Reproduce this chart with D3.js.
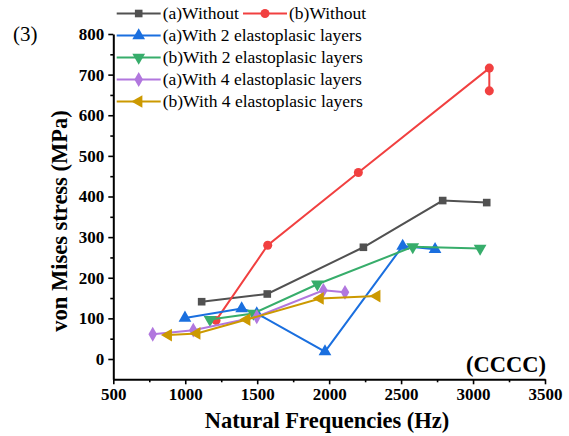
<!DOCTYPE html>
<html>
<head>
<meta charset="utf-8">
<script src="https://cdn.jsdelivr.net/npm/d3@7"></script>
<style>
  html, body { margin: 0; padding: 0; background: #fff; }
  svg { display: block; }
  text { font-family: "Liberation Serif", "Times New Roman", serif; }
</style>
</head>
<body>
<svg id="chart" width="569" height="436"></svg>
<script>
// Natural frequency (Hz) and von Mises stress (MPa) per configuration
const seriesNames = [
  "(a)Without", "(b)Without",
  "(a)With 2 elastoplasic layers", "(b)With 2 elastoplasic layers",
  "(a)With 4 elastoplasic layers", "(b)With 4 elastoplasic layers"
];
const freqAWithout = [1114, 1570, 2238, 2789, 3095];
const stressAWithout = [141, 160, 275, 390, 385];
const freqBWithout = [1214, 1573, 2203, 3113, 3113];
const stressBWithout = [95, 280, 459, 716, 660];
const freqA2 = [998, 1392, 1497, 1971, 2511, 2736];
const stressA2 = [101, 124, 112, 18, 278, 270];
const freqB2 = [1172, 1473, 1918, 2581, 3049];
const stressB2 = [97, 112, 184, 276, 272];
const freqA4 = [774, 1056, 1497, 1960, 2110];
const stressA4 = [61, 71, 104, 169, 164];
const freqB4 = [882, 1080, 1427, 1937, 2331];
const stressB4 = [59, 63, 97, 149, 155];

const xTicks = [500, 1000, 1500, 2000, 2500, 3000, 3500];
const yTicks = [0, 100, 200, 300, 400, 500, 600, 700, 800];

const colors = ["#515151", "#F14040", "#1A6FDF", "#37AD6B", "#B177DE", "#CC9900"];
const symbols = [
  { type: d3.symbolSquare, size: 58, rot: 0 },
  { type: d3.symbolCircle, size: 64, rot: 0 },
  { type: d3.symbolTriangle, size: 70, rot: 0 },
  { type: d3.symbolTriangle, size: 70, rot: 180 },
  { type: d3.symbolDiamond, size: 64, rot: 0 },
  { type: d3.symbolTriangle, size: 70, rot: -90 }
];

const allX = [freqAWithout, freqBWithout, freqA2, freqB2, freqA4, freqB4];
const allY = [stressAWithout, stressBWithout, stressA2, stressB2, stressA4, stressB4];
const series = seriesNames.map((name, i) => ({
  name, color: colors[i], sym: symbols[i],
  points: allX[i].map((f, j) => ({ f, s: allY[i][j] }))
}));

const svg = d3.select("#chart");
const x = d3.scaleLinear().domain([500, 3500]).range([113.3, 545]);
const y = d3.scaleLinear().domain([-50, 800]).range([379.3, 34]);

// Minor ticks
const xMinor = d3.range(750, 3500, 500);
const yMinor = d3.range(50, 800, 100);
svg.append("g").attr("transform", `translate(0,${y(-50)})`)
  .call(d3.axisBottom(x).tickValues(xMinor).tickSize(3).tickFormat(""))
  .call(g => g.select(".domain").remove())
  .call(g => g.selectAll("line").attr("stroke", "#000").attr("stroke-width", 1.6));
svg.append("g").attr("transform", `translate(${x(500)},0)`)
  .call(d3.axisLeft(y).tickValues(yMinor).tickSize(3).tickFormat(""))
  .call(g => g.select(".domain").remove())
  .call(g => g.selectAll("line").attr("stroke", "#000").attr("stroke-width", 1.6));

// Major axes
const xAxis = svg.append("g").attr("transform", `translate(0,${y(-50)})`)
  .call(d3.axisBottom(x).tickValues(xTicks).tickFormat(d3.format("d"))
    .tickSize(5).tickSizeOuter(0).tickPadding(4));
const yAxis = svg.append("g").attr("transform", `translate(${x(500)},0)`)
  .call(d3.axisLeft(y).tickValues(yTicks).tickFormat(d3.format("d"))
    .tickSize(5).tickSizeOuter(0).tickPadding(4));
[xAxis, yAxis].forEach(g => {
  g.select(".domain").attr("stroke", "#000").attr("stroke-width", 2);
  g.selectAll(".tick line").attr("stroke", "#000").attr("stroke-width", 1.6);
  g.selectAll(".tick text")
    .attr("fill", "#000")
    .style("font-family", '"Liberation Serif", "Times New Roman", serif')
    .style("font-weight", "bold")
    .style("font-size", "17px");
});

// Series lines and markers
const line = d3.line().x(d => x(d.f)).y(d => y(d.s));
const symPath = sym => d3.symbol().type(sym.type).size(sym.size)();
series.forEach(s => {
  svg.append("path").datum(s.points)
    .attr("d", line).attr("fill", "none")
    .attr("stroke", s.color).attr("stroke-width", 2);
  svg.append("g").selectAll("path").data(s.points).join("path")
    .attr("d", symPath(s.sym))
    .attr("transform", d => `translate(${x(d.f)},${y(d.s)}) rotate(${s.sym.rot})`)
    .attr("fill", s.color);
});

// Legend
const legendPos = [
  { lx: 116.7, ty: 13.5 }, { lx: 243, ty: 13.5 },
  { lx: 116.7, ty: 35.5 }, { lx: 116.7, ty: 57.5 },
  { lx: 116.7, ty: 79.5 }, { lx: 116.7, ty: 101.5 }
];
series.forEach((s, i) => {
  const p = legendPos[i];
  const g = svg.append("g").attr("transform", `translate(${p.lx},${p.ty})`);
  g.append("line").attr("x1", 0).attr("x2", 44).attr("y1", 0).attr("y2", 0)
    .attr("stroke", s.color).attr("stroke-width", 2);
  g.append("path").attr("d", symPath(s.sym))
    .attr("transform", `translate(22,0) rotate(${s.sym.rot})`).attr("fill", s.color);
  g.append("text").attr("x", 46).attr("y", 5.5)
    .attr("font-size", "17.5px").attr("fill", "#000").text(s.name);
});

// Axis titles and annotations
svg.append("text").attr("x", 327).attr("y", 428)
  .attr("text-anchor", "middle").attr("font-weight", "bold").attr("font-size", "22.5px")
  .text("Natural Frequencies (Hz)");
svg.append("text")
  .attr("transform", "translate(67,221) rotate(-90)")
  .attr("text-anchor", "middle").attr("font-weight", "bold").attr("font-size", "22.5px")
  .text("von Mises stress (MPa)");
svg.append("text").attr("x", 13).attr("y", 41)
  .attr("font-size", "21px").text("(3)");
svg.append("text").attr("x", 546).attr("y", 372)
  .attr("text-anchor", "end").attr("font-weight", "bold").attr("font-size", "22.5px")
  .text("(CCCC)");
</script>
</body>
</html>
